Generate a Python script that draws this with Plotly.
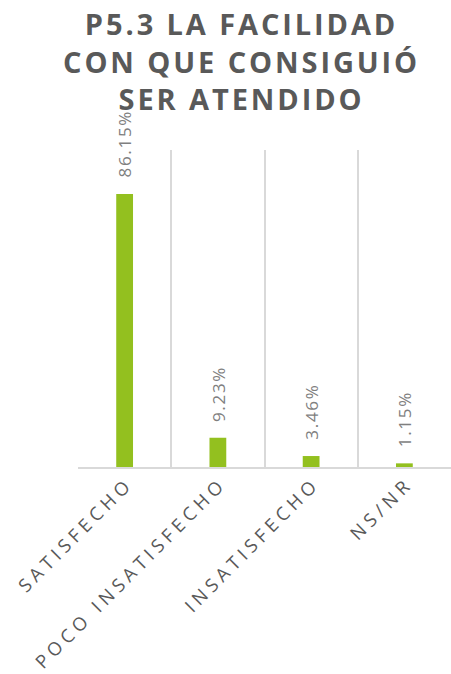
import plotly.graph_objects as go

categories = ["SATISFECHO", "POCO INSATISFECHO", "INSATISFECHO", "NS/NR"]
values = [86.15, 9.23, 3.46, 1.15]
title_lines = ["P5.3 LA FACILIDAD", "CON QUE CONSIGUIÓ", "SER ATENDIDO"]

HAIR = "\u200a"
QUARTER = "\u2005"


def spaced(s, sep=HAIR):
    # widen letter tracking with narrow spaces between characters
    return sep.join(list(s))


bar_color = "#93C01F"
grid_color = "#D9D9D9"
text_color = "#595959"
label_color = "#7F7F7F"

W, H = 451, 674
PLOT_LEFT = 78
PLOT_TOP, PLOT_BOTTOM = 150, 467
plot_w = W - PLOT_LEFT
plot_h = PLOT_BOTTOM - PLOT_TOP

fig = go.Figure()
fig.add_trace(go.Bar(
    x=categories,
    y=values,
    width=0.18,
    marker=dict(color=bar_color, line=dict(width=0)),
    hoverinfo="skip",
))

# value labels, rotated, just above each bar
for c, v in zip(categories, values):
    fig.add_annotation(
        x=c, y=v, xref="x", yref="y",
        text=spaced(f"{v:.2f}%", HAIR),
        textangle=-90,
        showarrow=False,
        yanchor="bottom",
        xanchor="center",
        yshift=14,
        font=dict(family="Open Sans", size=17, color=label_color),
    )

# chart title, centred a little right of the page middle
fig.add_annotation(
    x=(240 - PLOT_LEFT) / plot_w, y=(PLOT_BOTTOM - 2) / plot_h,
    xref="paper", yref="paper",
    xanchor="center", yanchor="top",
    showarrow=False,
    align="center",
    text="<br>".join(spaced(t, HAIR) for t in title_lines),
    font=dict(family="Open Sans", size=29, color=text_color, weight="bold"),
)

fig.update_layout(
    width=W, height=H,
    margin=dict(l=PLOT_LEFT, r=0, t=PLOT_TOP, b=H - PLOT_BOTTOM),
    paper_bgcolor="white",
    plot_bgcolor="white",
    showlegend=False,
    xaxis=dict(
        type="category",
        tickson="boundaries",
        showgrid=True,
        gridcolor=grid_color,
        gridwidth=1.5,
        showline=True,
        linecolor=grid_color,
        linewidth=2,
        ticks="",
        tickangle=-45,
        tickmode="array",
        tickvals=categories,
        ticktext=[spaced(c, QUARTER) for c in categories],
        tickfont=dict(family="Open Sans", size=18.5, color=text_color),
        range=[-0.5, 3.5],
    ),
    yaxis=dict(
        range=[0, 100],
        showgrid=False,
        zeroline=False,
        showticklabels=False,
        ticks="",
    ),
)

fig.write_html("out.html")
